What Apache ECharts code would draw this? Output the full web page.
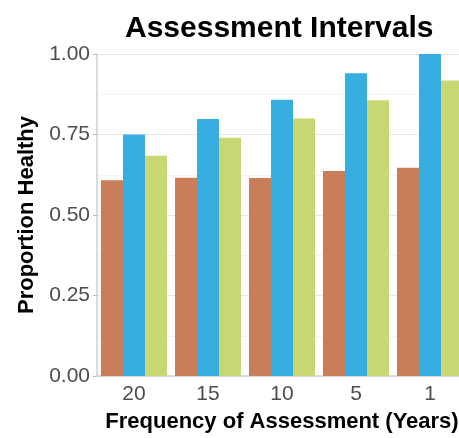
<!DOCTYPE html>
<html>
<head>
<meta charset="utf-8">
<script src="https://cdn.jsdelivr.net/npm/echarts@6/dist/echarts.min.js"></script>
<style>
  html, body { margin: 0; padding: 0; background: #fff; overflow: hidden; }
  #chart { width: 470px; height: 438px; }
</style>
</head>
<body>
<div id="chart"></div>
<script>
const categories = ['20', '15', '10', '5', '1']
const orangeVals = [0.608, 0.616, 0.615, 0.637, 0.647]
const blueVals = [0.750, 0.798, 0.858, 0.940, 1.0]
const greenVals = [0.684, 0.740, 0.800, 0.856, 0.918]
const yTicks = [0, 0.25, 0.5, 0.75, 1]

const barColors = ['#C97E59', '#37AEE2', '#C7D873']
const font = 'Liberation Sans'

// the plot runs a little past the right edge of the window, like the reference
const myChart = echarts.init(document.querySelector('#chart'))

myChart.setOption({
  animation: false,
  title: {
    text: 'Assessment Intervals',
    left: 125,
    top: 14,
    padding: 0,
    textStyle: { fontFamily: font, fontSize: 30, fontWeight: 'bold', color: '#000' }
  },
  grid: { left: 97, top: 54, right: 3, bottom: 57 },
  xAxis: {
    type: 'category',
    data: categories,
    name: 'Frequency of Assessment (Years)',
    nameLocation: 'middle',
    nameGap: 35,
    nameTextStyle: { fontFamily: font, fontSize: 22, fontWeight: 'bold', color: '#000' },
    axisLine: { lineStyle: { color: '#cfcfcf', width: 1.5 } },
    axisTick: { alignWithLabel: true, length: 4, lineStyle: { color: '#bdbdbd' } },
    axisLabel: { fontFamily: font, fontSize: 21, color: '#4d4d4d', margin: 8 }
  },
  yAxis: {
    type: 'value',
    min: 0,
    max: 1,
    interval: 0.25,
    name: 'Proportion Healthy',
    nameLocation: 'middle',
    nameGap: 55,
    nameTextStyle: { fontFamily: font, fontSize: 22, fontWeight: 'bold', color: '#000' },
    axisLine: { show: true, lineStyle: { color: '#cfcfcf', width: 1.5 } },
    axisTick: { show: true, length: 4, lineStyle: { color: '#bdbdbd' } },
    axisLabel: {
      fontFamily: font, fontSize: 21, color: '#4d4d4d', margin: 7,
      formatter: v => yTicks.includes(v) ? v.toFixed(2) : ''
    },
    splitLine: { lineStyle: { color: '#e6e6e6', width: 1 } },
    minorTick: { show: false, splitNumber: 2 },
    minorSplitLine: { show: true, lineStyle: { color: '#f3f3f3', width: 1 } }
  },
  series: [
    { name: 'a', type: 'bar', data: orangeVals, barWidth: 22, barGap: '0%', itemStyle: { color: barColors[0] } },
    { name: 'b', type: 'bar', data: blueVals, barWidth: 22, barGap: '0%', itemStyle: { color: barColors[1] } },
    { name: 'c', type: 'bar', data: greenVals, barWidth: 22, barGap: '0%', itemStyle: { color: barColors[2] } }
  ]
})
</script>
</body>
</html>
